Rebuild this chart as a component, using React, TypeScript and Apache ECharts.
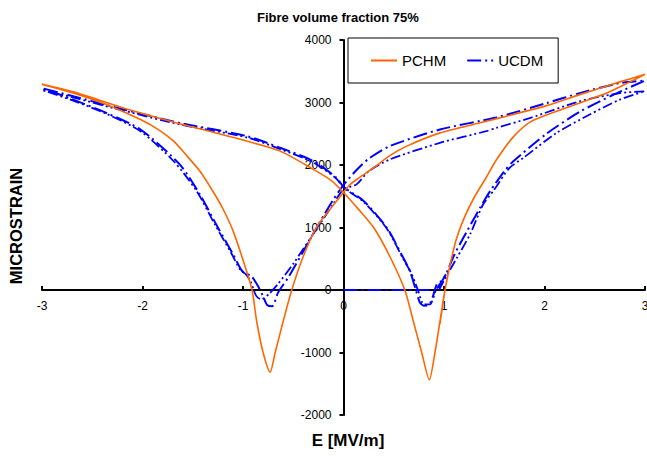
import React, { useEffect, useRef } from "react";
import * as echarts from "echarts";

const xTicks = [-3, -2, -1, 0, 1, 2, 3];
const yTicks = [-2000, -1000, 0, 1000, 2000, 3000, 4000];

// PCHM model loop (E in MV/m, microstrain)
const pchmE = [
  0.96, 1.01, 1.06, 1.12, 1.2, 1.3, 1.42, 1.52, 1.69, 1.86, 2.12, 2.35, 2.62, 2.85, 3.0,
  2.75, 2.35, 2.02, 1.69, 1.36, 0.96, 0.63, 0.46, 0.3, 0.15, 0.06, 0,
  -0.13, -0.27, -0.4, -0.515, -0.6, -0.68, -0.73, -0.8, -0.864, -0.91, -1.0, -1.1, -1.2, -1.3, -1.43, -1.55, -1.69, -1.85, -2.02, -2.36, -2.69, -3.0,
  -2.69, -2.19, -1.63, -1.43, -0.96, -0.63, -0.3, -0.12, 0,
  0.15, 0.3, 0.46, 0.61, 0.695, 0.778, 0.854, 0.91, 0.96, 1.01, 1.06,
];
const pchmStrain = [
  -543, 0, 400, 800, 1150, 1480, 1800, 2080, 2450, 2690, 2860, 2993, 3152, 3330, 3450,
  3330, 3126, 2950, 2810, 2675, 2514, 2302, 2150, 1956, 1790, 1680, 1560,
  1300, 999, 540, 0, -500, -1000, -1314, -1000, -500, 0, 480, 950, 1300, 1580, 1903, 2130, 2381, 2575, 2727, 2967, 3152, 3290,
  3170, 2913, 2660, 2580, 2381, 2222, 1930, 1750, 1560,
  1290, 1000, 540, 0, -500, -1000, -1436, -1000, -500, 0, 400,
];

// UCDM model, first loop
const ucdmAE = [
  0, 0.5, 0.93, 0.97, 1.02, 1.09, 1.16, 1.23, 1.36, 1.46, 1.6, 1.69, 2.02, 2.35, 2.68, 3.0,
  2.75, 2.35, 2.02, 1.52, 0.96, 0.46, 0.25, 0.13, 0,
  -0.1, -0.23, -0.4, -0.55, -0.65, -0.71, -0.76, -0.8, -0.85, -0.92, -0.98, -1.02, -1.1, -1.25, -1.43, -1.63, -2.02, -2.36, -2.69, -3.0,
  -2.69, -2.19, -1.63, -0.96, -0.63, -0.3, -0.07, 0,
  0.2, 0.43, 0.58, 0.66, 0.72, 0.76, 0.8, 0.85, 0.89, 0.93, 0.97, 1.02,
];
const ucdmAStrain = [
  0, 0, 0, 120, 250, 520, 740, 946, 1318, 1584, 1900, 2060, 2500, 2850, 3120, 3350,
  3310, 3150, 2990, 2760, 2568, 2302, 2100, 1920, 1680,
  1450, 1101, 620, 200, -38, -260, -240, -100, 60, 230, 260, 330, 574, 1000, 1531, 2010, 2568, 2833, 3047, 3230,
  3100, 2890, 2674, 2461, 2275, 2062, 1796, 1650,
  1425, 999, 560, 308, 0, -200, -250, -240, -100, 100, 140, 250,
];

// UCDM model, second loop
const ucdmBE = [
  0.95, 1.0, 1.13, 1.26, 1.39, 1.49, 1.65, 1.79, 2.12, 2.45, 2.75, 3.0,
  2.75, 2.35, 1.86, 1.52, 1.42, 0.96, 0.46, 0.25, 0.13, 0,
  -0.1, -0.3, -0.5, -0.65, -0.74, -0.82, -0.87, -0.92, -0.97, -1.03, -1.12, -1.28, -1.46, -1.69, -2.02, -2.36, -2.69, -3.0,
  -2.69, -2.19, -1.63, -0.96, -0.63, -0.3, -0.07, 0,
  0.2, 0.43, 0.6, 0.68, 0.74, 0.8, 0.86, 0.92, 0.96, 1.0,
];
const ucdmBStrain = [
  0, 150, 520, 893, 1372, 1584, 1950, 2115, 2514, 2807, 3046, 3180,
  3150, 3019, 2753, 2594, 2541, 2354, 2089, 1900, 1690, 1610,
  1380, 900, 420, 100, -60, -150, -90, 120, 250, 330, 600, 1050, 1580, 2060, 2540, 2820, 3030, 3200,
  3080, 2870, 2650, 2440, 2255, 2040, 1780, 1640,
  1410, 985, 480, 250, 0, -230, -230, 0, 100, 150,
];

const zip = (xs: number[], ys: number[]) => xs.map((x, i) => [x, ys[i]]);

const FONT = "Liberation Sans, Arial, sans-serif";
const W = 647;
const H = 456;
const G = { left: 42, right: 2, top: 40, bottom: 41 };

export default function App() {
  const ref = useRef<HTMLDivElement>(null);
  useEffect(() => {
    if (!ref.current) return;
    const chart = echarts.init(ref.current, undefined, { renderer: "svg" });
    const gw = W - G.left - G.right;
    const gh = H - G.top - G.bottom;
    const xMin = xTicks[0];
    const xMax = xTicks[xTicks.length - 1];
    const yMin = yTicks[0];
    const yMax = yTicks[yTicks.length - 1];
    // shift axes so they cross at the origin
    const yAxisOffset = -((0 - xMin) / (xMax - xMin)) * gw;
    const xAxisOffset = -((0 - yMin) / (yMax - yMin)) * gh;
    chart.setOption({
      animation: false,
      backgroundColor: "#ffffff",
      textStyle: { fontFamily: FONT },
      title: {
        text: "Fibre volume fraction 75%",
        left: 252,
        top: 6,
        textStyle: { fontSize: 13, fontWeight: "bold", color: "#000", fontFamily: FONT },
      },
      legend: {
        left: 348,
        top: 38,
        orient: "horizontal",
        backgroundColor: "#fff",
        borderColor: "#000",
        borderWidth: 1,
        padding: [15, 15, 15, 22],
        itemWidth: 26,
        itemHeight: 14,
        itemGap: 20,
        itemStyle: { opacity: 0 },
        textStyle: { fontSize: 15, color: "#000", fontFamily: FONT },
        data: ["PCHM", "UCDM"],
      },
      grid: {
        left: G.left,
        right: G.right,
        top: G.top,
        bottom: G.bottom,
        containLabel: false,
        outerBoundsMode: "none",
      },
      xAxis: {
        type: "value",
        position: "bottom",
        offset: xAxisOffset,
        min: xMin,
        max: xMax,
        interval: 1,
        axisLine: { show: true, onZero: false, lineStyle: { color: "#000", width: 2 } },
        axisTick: { show: true, inside: true, length: 4, lineStyle: { color: "#000", width: 2 } },
        axisLabel: {
          fontSize: 12,
          color: "#000",
          margin: 10,
          fontFamily: FONT,
          formatter: (v: number) => String(v),
        },
        splitLine: { show: false },
      },
      yAxis: {
        type: "value",
        position: "left",
        offset: yAxisOffset,
        min: yMin,
        max: yMax,
        interval: 1000,
        axisLine: { show: true, onZero: false, lineStyle: { color: "#000", width: 2 } },
        axisTick: { show: true, inside: false, length: 4, lineStyle: { color: "#000", width: 2 } },
        axisLabel: {
          fontSize: 12,
          color: "#000",
          margin: 12,
          fontFamily: FONT,
          formatter: (v: number) => String(v),
        },
        splitLine: { show: false },
      },
      graphic: [
        {
          type: "text",
          x: 16,
          y: 226,
          rotation: Math.PI / 2,
          style: {
            text: "MICROSTRAIN",
            fill: "#000",
            font: "bold 16.5px Liberation Sans, Arial, sans-serif",
            align: "center",
            verticalAlign: "middle",
          },
        },
        {
          type: "text",
          x: 348,
          y: 440,
          style: {
            text: "E [MV/m]",
            fill: "#000",
            font: "bold 17px Liberation Sans, Arial, sans-serif",
            align: "center",
            verticalAlign: "middle",
          },
        },
      ],
      series: [
        {
          name: "PCHM",
          type: "line",
          data: zip(pchmE, pchmStrain),
          symbol: "none",
          smooth: 0.25,
          lineStyle: { color: "#FF6600", width: 1.6, type: "solid" },
          itemStyle: { color: "#FF6600" },
          z: 3,
        },
        {
          name: "UCDM",
          type: "line",
          data: zip(ucdmAE, ucdmAStrain),
          symbol: "none",
          smooth: 0.25,
          lineStyle: { color: "#0000FF", width: 2, type: [14, 4, 2, 4] },
          itemStyle: { color: "#0000FF" },
          z: 2,
        },
        {
          name: "UCDM",
          type: "line",
          data: zip(ucdmBE, ucdmBStrain),
          symbol: "none",
          smooth: 0.25,
          lineStyle: { color: "#0000FF", width: 1.8, type: [10, 3, 2, 3, 2, 3] },
          itemStyle: { color: "#0000FF" },
          z: 2,
        },
      ],
    });
    return () => chart.dispose();
  }, []);
  return (
    <div
      ref={ref}
      style={{ position: "fixed", left: 0, top: 0, width: W, height: H }}
    />
  );
}
